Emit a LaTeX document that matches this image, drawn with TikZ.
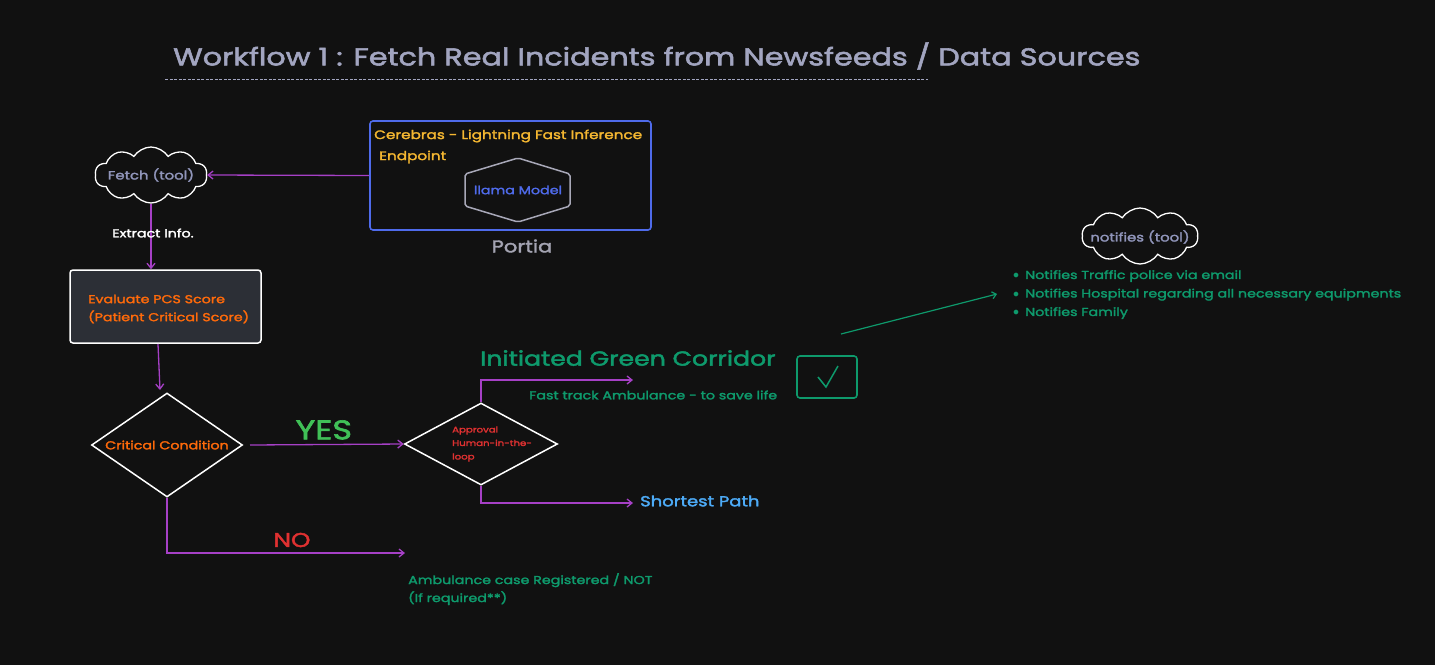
\documentclass[tikz,border=0pt]{standalone}
\usepackage{fontspec}
\setmainfont{Poppins}[FakeStretch=1.24, FakeBold=2.2]
\usetikzlibrary{shapes.geometric,shapes.symbols,arrows.meta}
\definecolor{bg}{HTML}{111111}
\definecolor{titlegray}{HTML}{A2A5C0}
\definecolor{flow}{HTML}{A640C6}
\definecolor{boxblue}{HTML}{4F6BEB}
\definecolor{amber}{HTML}{F5B731}
\definecolor{hexgray}{HTML}{A8A8B8}
\definecolor{toolgray}{HTML}{9095BA}
\definecolor{orangetxt}{HTML}{FF6A0A}
\definecolor{panel}{HTML}{2C2F36}
\definecolor{yesgreen}{HTML}{40C057}
\definecolor{noted}{HTML}{E03131}
\definecolor{teal}{HTML}{0E9A6C}
\definecolor{skyblue}{HTML}{4DABF7}
\tikzset{
  flowarrow/.style={draw=flow, line width=1.3pt, -{Straight Barb[length=5pt,width=8pt]}},
  toolcloud/.style={cloud, cloud puffs=10, cloud puff arc=115, cloud ignores aspect, draw=white, line width=1.3pt, inner sep=0pt},
  decision/.style={diamond, draw=white, line width=1.5pt, inner sep=0pt},
  lbl/.style={inner sep=0pt, anchor=west},
}
\begin{document}
\begin{tikzpicture}[x=1pt, y=-1pt]
\fill[bg] (0,0) rectangle (1435,665);
\useasboundingbox (0,0) rectangle (1435,665);

% title and rule
\node[lbl, text=titlegray, font=\fontsize{24.4}{28}\selectfont] (title) at (173,56) {Workflow 1 : Fetch Real Incidents from Newsfeeds / Data Sources};
\draw[titlegray, line width=0.9pt, dash pattern=on 3pt off 1.5pt] (165,79) -- (928,79);

% inference endpoint panel
\node[draw=boxblue, line width=1.6pt, rounded corners=3pt, minimum width=281pt, minimum height=109pt, inner sep=0pt] (panel) at (510.5,175.5) {};
\node[lbl, text=amber, font=\fontsize{12.3}{15}\selectfont] (cerebras) at (374,136) {Cerebras - Lightning Fast Inference};
\node[lbl, text=amber, font=\fontsize{12.3}{15}\selectfont] (endpoint) at (379,157) {Endpoint};
\draw[hexgray, line width=1.5pt, rounded corners=2pt] (465,174) -- (518,158) -- (570,174) -- (570,206) -- (518,222) -- (465,206) -- cycle;
\node[text=boxblue, font=\fontsize{11.5}{14}\selectfont] (llama) at (518,190) {llama Model};
\node[text=hexgray!90!gray, font=\fontsize{17}{20}\selectfont] (portia) at (522,246) {Portia};

% fetch tool
\node[toolcloud, minimum width=112pt, minimum height=56pt] (fetch) at (151,175) {};
\node[text=toolgray, font=\fontsize{12}{15}\selectfont] at (151,175) {Fetch (tool)};
\draw[flowarrow] (panel.west) -- (fetch.east);

% evaluate PCS
\node[draw=white, fill=panel, line width=1.5pt, rounded corners=3pt, minimum width=191pt, minimum height=73pt] (pcs) at (165.5,306.5) {};
\node[lbl, text=orangetxt, font=\fontsize{11.5}{18}\selectfont, align=left, anchor=west] at (88,309) {Evaluate PCS Score\\(Patient Critical Score)};
\draw[flowarrow] (fetch.south) ++(0,0) coordinate (fs) -- (fs |- pcs.north) coordinate (pe);
\node[text=white, font=\fontsize{11.5}{15}\selectfont] (extract) at (153,233) {Extract Info.};

% critical condition
\node[decision, minimum width=151pt, minimum height=104pt] (crit) at (167,445) {};
\node[text=orangetxt, font=\fontsize{11.5}{15}\selectfont] at (167,445) {Critical Condition};
\draw[flowarrow] (158,344) -- (160,390);

% approval
\node[decision, minimum width=153pt, minimum height=82pt] (appr) at (481,444) {};
\node[lbl, text=noted, font=\fontsize{8.2}{13.5}\selectfont, align=left] at (452,444) {Approval\\Human-in-the-\\loop};
\draw[flowarrow] (250,445) -- node[above=1pt, xshift=-3pt, text=yesgreen, font=\fontsize{27}{30}\selectfont] (yes) {YES} (appr.west);

% approved branch
\coordinate (gc) at (633,380);
\draw[flowarrow] (appr.north) |- (gc);
\node[lbl, text=teal, font=\fontsize{20.3}{24}\selectfont] (green) at (480,358) {Initiated Green Corridor};
\node[lbl, text=teal, font=\fontsize{11.5}{15}\selectfont] (fast) at (529,395) {Fast track Ambulance - to save life};
\node[draw=teal, line width=1.6pt, rounded corners=3pt, minimum width=60pt, minimum height=42pt] (check) at (827,377) {};
\draw[teal, line width=1.5pt] (818,377) -- (826,387) -- (838,366);

% shortest path branch
\coordinate (sp) at (633,503);
\draw[flowarrow] (appr.south) |- (sp);
\node[lbl, text=skyblue, font=\fontsize{14.5}{17}\selectfont] (short) at (640,501) {Shortest Path};

% not critical branch
\coordinate (nc) at (405,553);
\draw[flowarrow] (crit.south) |- (nc);
\node[text=noted, font=\fontsize{20}{23}\selectfont] (no) at (292,540) {NO};
\node[lbl, text=teal, font=\fontsize{11.5}{18}\selectfont, align=left, anchor=north west] (reg) at (408,573) {Ambulance case Registered / NOT\\(If required**)};

% notifications
\coordinate (nstart) at (841,334);
\coordinate (nend) at (997,294);
\draw[teal, line width=1.2pt, -{Straight Barb[length=4pt,width=7pt]}] (nstart) -- (nend);
\node[toolcloud, minimum width=116pt, minimum height=56pt] (notify) at (1140,236) {};
\node[text=toolgray, font=\fontsize{12}{15}\selectfont] at (1140,237) {notifies (tool)};
\node[lbl, text=teal, font=\fontsize{11.5}{18.5}\selectfont, align=left, anchor=north west] (list) at (1013,270) {$\bullet$\hspace{6pt}Notifies Traffic police via email\\$\bullet$\hspace{6pt}Notifies Hospital regarding all necessary equipments\\$\bullet$\hspace{6pt}Notifies Family};
\end{tikzpicture}
\end{document}
